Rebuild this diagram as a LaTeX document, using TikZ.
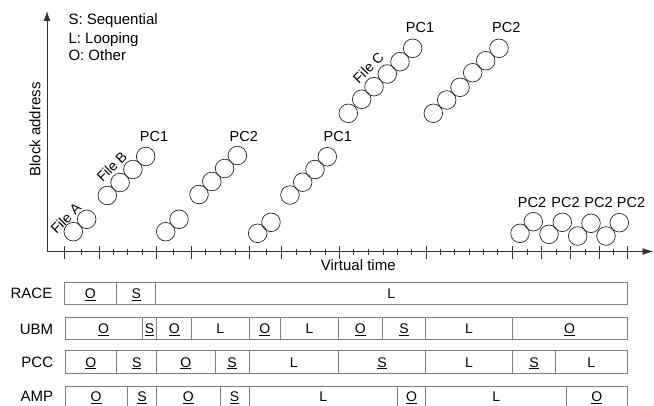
\documentclass[tikz,border=0pt]{standalone}
\usepackage{fontspec}
\setmainfont{Liberation Sans}
\usetikzlibrary{arrows.meta}
\newcommand\ulO{\underline{O}}
\newcommand\ulS{\underline{S}}
\begin{document}
\begin{tikzpicture}[x=1pt,y=-1pt,
  blk/.style={circle,draw=black!85,line width=0.7pt,minimum size=18.6pt,inner sep=0pt},
  pclab/.style={font=\fontsize{14.5}{17}\selectfont,inner sep=0pt,anchor=base},
  filelab/.style={font=\fontsize{14}{16}\selectfont,inner sep=0pt,rotate=45},
  legend/.style={font=\fontsize{15}{18}\selectfont,inner sep=0pt,anchor=base west},
  axis/.style={draw=black!80,line width=0.9pt},
  tickmark/.style={draw=black!80,line width=0.8pt},
  seg/.style={draw=black!50,line width=0.8pt},
  seglab/.style={font=\fontsize{14}{16}\selectfont,inner sep=0pt,anchor=base},
  rowlab/.style={font=\fontsize{15}{18}\selectfont,inner sep=0pt,anchor=base east},
]
\useasboundingbox (0,0) rectangle (654,406);
\clip (0,0) rectangle (654,406);

% axes
\coordinate (orig) at (47,251.5);
\coordinate (ytip) at (47,11);
\coordinate (xtip) at (653.5,251.5);
\draw[axis,-{Latex[length=10pt,width=7pt]}] (orig) -- (ytip);
\draw[axis,-{Latex[length=11pt,width=7pt]}] (orig) -- (xtip);
\foreach \t in {64,99,156.7,191,249,281,339,426,512,541,570,599,627}
  \draw[tickmark] (\t,246) -- (\t,259);
\foreach \t in {81.7,113,127.5,142,173,205.7,220,235,266,296,310,325,353,368,383,397,411,440,454,469,483,497,527,556,585,613}
  \draw[tickmark,line width=0.6pt] (\t,249) -- (\t,255);

\node[font=\fontsize{15}{18}\selectfont,rotate=90,inner sep=0pt] (yl) at (35,129.5) {Block address};
\node[font=\fontsize{15}{18}\selectfont,inner sep=0pt,anchor=base] (xl) at (358.3,270.5) {Virtual time};

% legend
\node[legend] (lg1) at (68.3,25) {S: Sequential};
\node[legend] (lg2) at (68.3,43.3) {L: Looping};
\node[legend] (lg3) at (68.3,61) {O: Other};

% circles
\foreach \x/\y [count=\i] in {73.3/231.7, 86.7/219.3}
  \node[blk] (fa\i) at (\x,\y) {};
\foreach \x/\y [count=\i] in {107.3/195.5, 120.1/182.5, 132.9/169.5, 145.7/156.5}
  \node[blk] (fb\i) at (\x,\y) {};
\foreach \x/\y [count=\i] in {165.7/231.7, 179/219.3}
  \node[blk] (pa\i) at (\x,\y) {};
\foreach \x/\y [count=\i] in {199/194.5, 211.8/181.5, 224.6/168.5, 237.4/155.5}
  \node[blk] (pb\i) at (\x,\y) {};
\foreach \x/\y [count=\i] in {257.7/233.3, 271/222.3}
  \node[blk] (pc\i) at (\x,\y) {};
\foreach \x/\y [count=\i] in {290/195, 302.7/182.2, 315/169.5, 327.3/156.7}
  \node[blk] (pd\i) at (\x,\y) {};
\foreach \x/\y [count=\i] in {348.3/113.3, 361.7/99.3, 374/86.7, 387.3/74, 400/61.7, 412.7/48.3}
  \node[blk] (fc\i) at (\x,\y) {};
\foreach \x/\y [count=\i] in {433.3/113.3, 446.7/100, 460/87.3, 472.7/72.7, 485.7/60.7, 499/48.3}
  \node[blk] (pe\i) at (\x,\y) {};
\foreach \x/\y [count=\i] in {520/233.3, 533.3/221.7, 549/234.3, 562.3/222.3, 577.7/236, 591/223.3, 606/236, 619.3/222.7}
  \node[blk] (pf\i) at (\x,\y) {};

% labels
\node[filelab] (fal) at (65.7,218.3) {File A};
\node[filelab] (fbl) at (111.7,166.7) {File B};
\node[filelab] (fcl) at (368.3,67.7) {File C};
\node[pclab] (l1) at (154,141.7) {PC1};
\node[pclab] (l2) at (243.8,141.7) {PC2};
\node[pclab] (l3) at (337.8,141.7) {PC1};
\node[pclab] (l4) at (420,32.7) {PC1};
\node[pclab] (l5) at (506.3,32.7) {PC2};
\foreach \x [count=\i] in {532,565.5,598.5,631}
  \node[pclab] (lb\i) at (\x,207.3) {PC2};

% policy rows
\node[rowlab] (race) at (52.5,298.3) {RACE};
\node[rowlab] (ubm) at (53.3,335) {UBM};
\node[rowlab] (pcc) at (53.3,367) {PCC};
\node[rowlab] (amp) at (53.3,402) {AMP};

\foreach \a/\b/\t [count=\i] in {64/116.7/\ulO, 116.7/155.7/\ulS, 155.7/627/L}{
  \draw[seg] (\a,282.3) rectangle (\b,304.3);
  \node[seglab] (r\i) at ({(\a+\b)/2},298.3) {\t};
}
\foreach \a/\b/\t [count=\i] in {65/142.3/\ulO, 142.3/156.7/\ulS, 156.7/191.7/\ulO, 191.7/249/L, 249/280.7/\ulO, 280.7/338.3/L, 338.3/382.3/\ulO, 382.3/425.7/\ulS, 425.7/512.3/L, 512.3/627/\ulO}{
  \draw[seg] (\a,317.3) rectangle (\b,339.3);
  \node[seglab] (u\i) at ({(\a+\b)/2},333.3) {\t};
}
\foreach \a/\b/\t [count=\i] in {65/116.7/\ulO, 116.7/156.7/\ulS, 156.7/215/\ulO, 215/249.3/\ulS, 249.3/338.3/L, 338.3/425.7/\ulS, 425.7/512.3/L, 512.3/555.7/\ulS, 555.7/627/L}{
  \draw[seg] (\a,350.7) rectangle (\b,373.3);
  \node[seglab] (p\i) at ({(\a+\b)/2},367) {\t};
}
\foreach \a/\b/\t [count=\i] in {65/127.3/\ulO, 127.3/156.7/\ulS, 156.7/220/\ulO, 220/249.3/\ulS, 249.3/397.3/L, 397.3/425.7/\ulO, 425.7/566.7/L, 566.7/627/\ulO}{
  \draw[seg] (\a,386) rectangle (\b,409);
  \node[seglab] (a\i) at ({(\a+\b)/2},402) {\t};
}
\end{tikzpicture}
\end{document}
